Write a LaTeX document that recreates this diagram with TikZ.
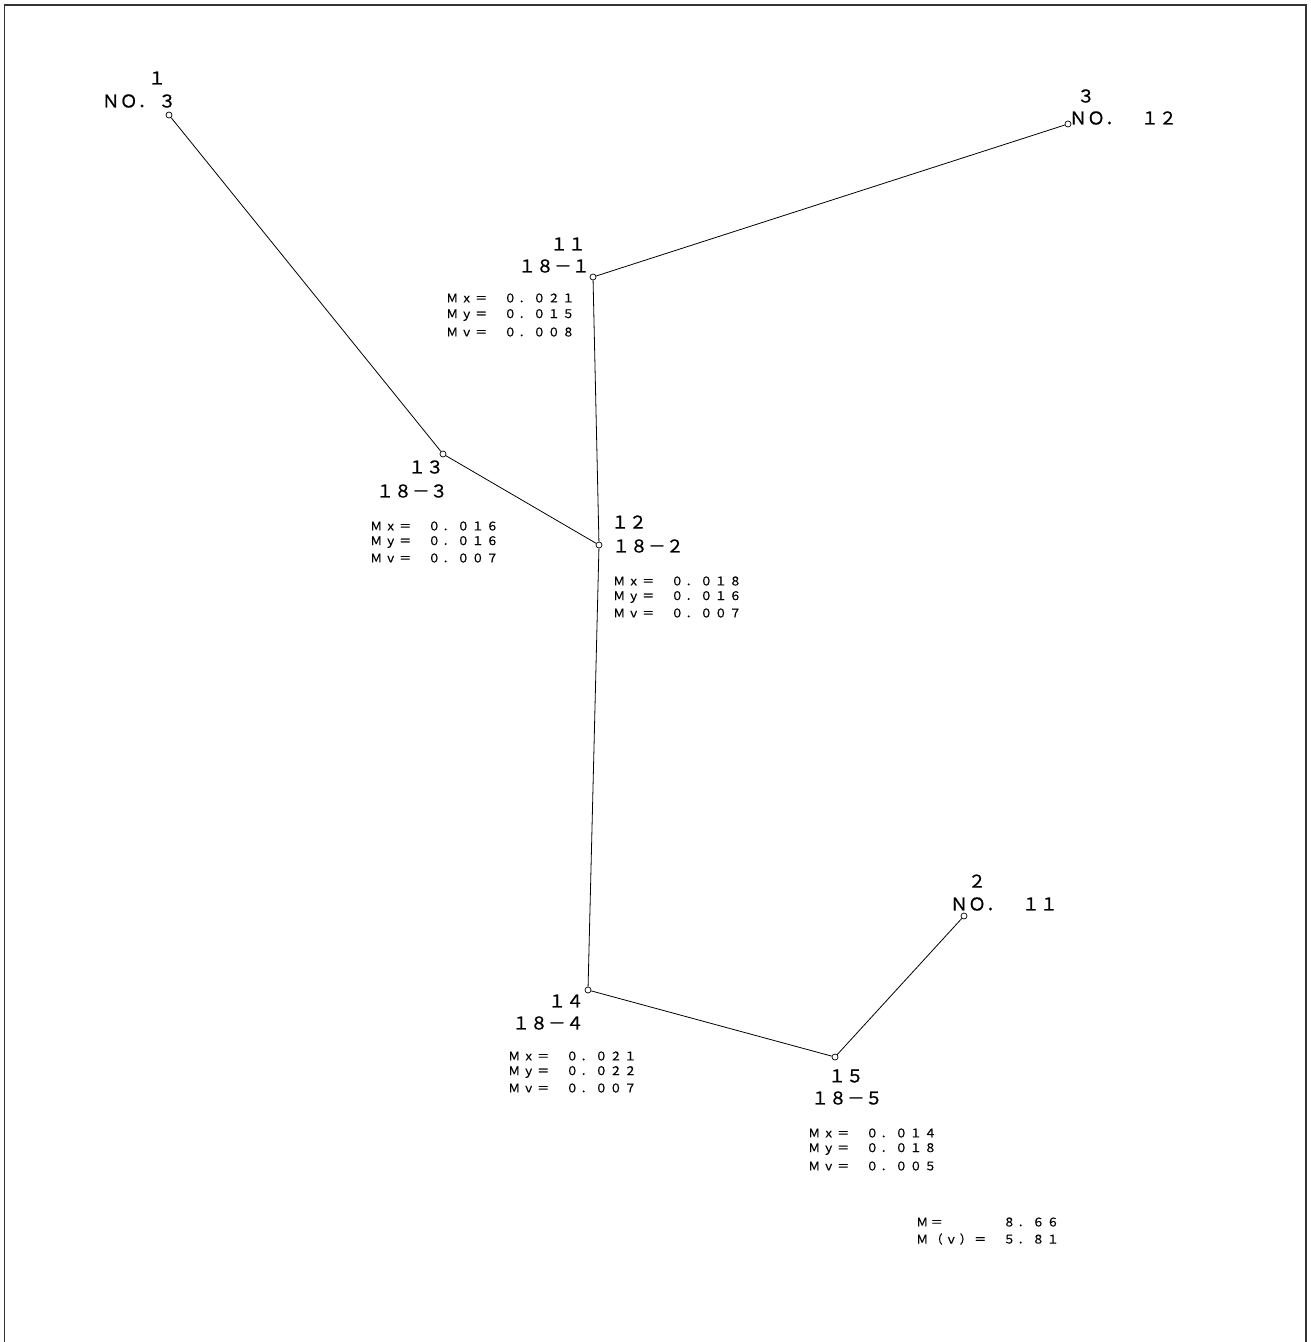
\documentclass[tikz,border=0pt]{standalone}
\usepackage{fontspec}
\newfontfamily\jpbig[LetterSpace=2,FakeBold=0.8]{Noto Sans CJK JP}
\newfontfamily\jpsmall[LetterSpace=21,FakeBold=0.5]{Noto Sans CJK JP}
\tikzstyle{node_point} = [circle, draw, line width=0.7pt, inner sep=0pt, minimum size=6pt]
\tikzstyle{label_big} = [inner sep=0pt, font=\jpbig\fontsize{17.6}{18}\selectfont]
\tikzstyle{label_small} = [inner sep=0pt, anchor=west, font=\jpsmall\fontsize{12}{12}\selectfont]
\tikzstyle{edge_line} = [line width=0.8pt]
\tikzstyle{frame_line} = [line width=1.5pt, black!80]
\begin{document}
\begin{tikzpicture}[x=1pt,y=-1pt]
			\useasboundingbox (0,0) rectangle (1310,1342);
			\draw[frame_line] (4.5,1342) -- (4.5,5) -- (1306,5) -- (1306,1342);

			\node (P1) at (169,115) [node_point] {};
			\node (P3) at (1068,124) [node_point] {};
			\node (P11) at (593,277) [node_point] {};
			\node (P13) at (443,454) [node_point] {};
			\node (P12) at (599,545) [node_point] {};
			\node (P14) at (588,990) [node_point] {};
			\node (P15) at (835,1057) [node_point] {};
			\node (P2) at (964,916) [node_point] {};

			\node (T1) at (157,78) [label_big] {１};
			\node (N1) at (139,101) [label_big] {ＮＯ．\,３};
			\node (T3) at (1086,96) [label_big] {３};
			\node (N3) at (1123,118) [label_big] {ＮＯ．　１２};
			\node (T2) at (977,881) [label_big] {２};
			\node (N2) at (1004,904) [label_big] {ＮＯ．　１１};
			\node (T11) at (568,244) [label_big] {１１};
			\node (N11) at (554,266) [label_big] {１８－１};
			\node (T13) at (426,467) [label_big] {１３};
			\node (N13) at (412,491) [label_big] {１８－３};
			\node (T12) at (629,522) [label_big] {１２};
			\node (N12) at (648,546) [label_big] {１８－２};
			\node (T14) at (566,1001) [label_big] {１４};
			\node (N14) at (548,1023) [label_big] {１８－４};
			\node (T15) at (846,1076) [label_big] {１５};
			\node (N15) at (847,1098) [label_big] {１８－５};

			\node (X11) at (446,298) [label_small] {Ｍｘ＝　０．０２１};
			\node (Y11) at (446,315) [label_small] {Ｍｙ＝　０．０１５};
			\node (V11) at (446,332) [label_small] {Ｍｖ＝　０．００８};
			\node (X13) at (370,526) [label_small] {Ｍｘ＝　０．０１６};
			\node (Y13) at (370,542) [label_small] {Ｍｙ＝　０．０１６};
			\node (V13) at (370,558) [label_small] {Ｍｖ＝　０．００７};
			\node (X12) at (613,581) [label_small] {Ｍｘ＝　０．０１８};
			\node (Y12) at (613,597) [label_small] {Ｍｙ＝　０．０１６};
			\node (V12) at (613,613) [label_small] {Ｍｖ＝　０．００７};
			\node (X14) at (508,1056) [label_small] {Ｍｘ＝　０．０２１};
			\node (Y14) at (508,1072) [label_small] {Ｍｙ＝　０．０２２};
			\node (V14) at (508,1088) [label_small] {Ｍｖ＝　０．００７};
			\node (X15) at (808,1133) [label_small] {Ｍｘ＝　０．０１４};
			\node (Y15) at (808,1149) [label_small] {Ｍｙ＝　０．０１８};
			\node (V15) at (808,1166) [label_small] {Ｍｖ＝　０．００５};
			\node (M0) at (916,1222) [label_small] {Ｍ＝　　　　８．６６};
			\node (MV) at (916,1239) [label_small] {Ｍ（ｖ）＝　５．８１};

			\draw[edge_line] (P1)--(P13) (P13)--(P12);
			\draw[edge_line] (P3)--(P11) (P11)--(P12);
			\draw[edge_line] (P12)--(P14) (P14)--(P15) (P15)--(P2);
		\end{tikzpicture}
\end{document}
